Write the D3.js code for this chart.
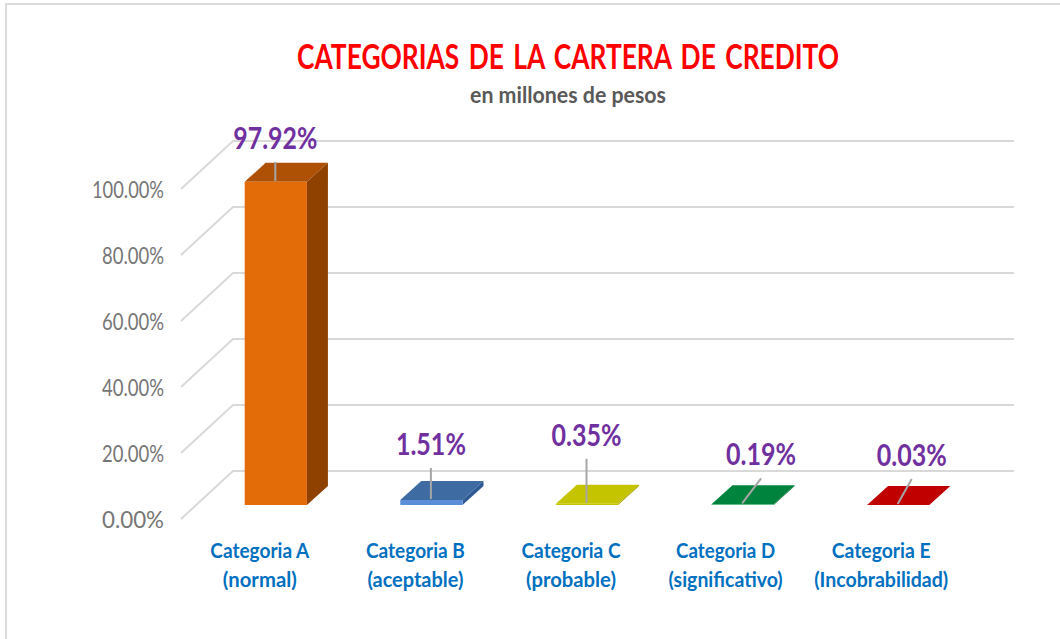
<!DOCTYPE html>
<html>
<head>
<meta charset="utf-8">
<script src="https://cdn.jsdelivr.net/npm/d3@7"></script>
<style>
  html, body { margin: 0; padding: 0; background: #fff; }
  text { font-family: Lato, Carlito, sans-serif; }
</style>
</head>
<body>
<div id="chart"></div>
<script>
// Chart data
const categories = ['Categoria A', 'Categoria B', 'Categoria C', 'Categoria D', 'Categoria E'];
const subLabels = ['(normal)', '(aceptable)', '(probable)', '(significativo)', '(Incobrabilidad)'];
const values = [97.92, 1.51, 0.35, 0.19, 0.03];
const valueLabels = ['97.92%', '1.51%', '0.35%', '0.19%', '0.03%'];
const yTicks = [0, 20, 40, 60, 80, 100];

// Bar colours: front, top, side
const frontColors = ['#e36c09', '#5b8ed8', '#c4c400', '#2fa565', '#e03030'];
const topColors = ['#ae5104', '#3f6ba3', '#c4c400', '#00843d', '#c00000'];
const sideColors = ['#8f4200', '#2f5a94', '#a5a500', '#006b30', '#a00000'];

const W = 1060, H = 639;

const svg = d3.select('#chart').append('svg')
  .attr('width', W)
  .attr('height', H)
  .style('display', 'block');

// Frame
svg.append('path')
  .attr('d', `M6,${H}V4H${W}`)
  .attr('fill', 'none')
  .attr('stroke', '#dcdcdc')
  .attr('stroke-width', 2);

// Scales (front plane of the bars)
const x = d3.scaleBand()
  .domain(categories)
  .range([198, 976])
  .paddingInner(0.6)
  .paddingOuter(0.3);

const y = d3.scaleLinear()
  .domain([0, 100])
  .range([505, 175]);

// 3D offsets
const depthX = 21, depthY = -19;      // bar depth
const floorFront = 14;                // front edge of the floor below the bars
const wallX = 233, leftX = 181, rightX = 1014;
const wallDy = -34;

// Grid: floor/side diagonal + back wall line
svg.append('g').selectAll('path')
  .data(yTicks)
  .join('path')
  .attr('d', d => `M${leftX},${y(d) + floorFront}L${wallX},${y(d) + wallDy}H${rightX}`)
  .attr('fill', 'none')
  .attr('stroke', '#d9d9d9')
  .attr('stroke-width', 2);

// Y axis labels
const yAxis = svg.append('g')
  .attr('transform', `translate(167,${floorFront + 1})`)
  .call(d3.axisLeft(y).tickValues(yTicks).tickSize(0).tickFormat(d => d3.format('.2f')(d) + '%'));
yAxis.select('.domain').remove();
yAxis.selectAll('text')
  .attr('font-size', 23)
  .attr('fill', '#767676')
  .style('font-family', 'Lato, sans-serif')
  .attr('textLength', (d, i) => i === 5 ? 72 : 62)
  .attr('lengthAdjust', 'spacingAndGlyphs');

// Bars
const bars = svg.append('g').selectAll('g')
  .data(values)
  .join('g');

bars.append('path')
  .attr('d', (d, i) => {
    const x0 = x(categories[i]), x1 = x0 + x.bandwidth();
    return `M${x0},${y(d)}L${x0 + depthX},${y(d) + depthY}H${x1 + depthX}L${x1},${y(d)}Z`;
  })
  .attr('fill', (d, i) => topColors[i]);

bars.append('path')
  .attr('d', (d, i) => {
    const x1 = x(categories[i]) + x.bandwidth();
    return `M${x1},${y(d)}L${x1 + depthX},${y(d) + depthY}V${y(0) + depthY}L${x1},${y(0)}Z`;
  })
  .attr('fill', (d, i) => sideColors[i]);

bars.append('rect')
  .attr('x', (d, i) => x(categories[i]))
  .attr('y', d => y(d))
  .attr('width', x.bandwidth())
  .attr('height', d => y(0) - y(d))
  .attr('fill', (d, i) => frontColors[i]);

// Value label placement relative to the bar centre / top
const labelDx = [0, 0, 0, 19, 14];
const labelDy = [-43, -55, -68, -49, -49];
const leaderDy = [-1, -1, -1, -1, -1];

bars.append('line')
  .attr('x1', (d, i) => x(categories[i]) + x.bandwidth() / 2 - 0.5)
  .attr('y1', (d, i) => y(d) + leaderDy[i])
  .attr('x2', (d, i) => x(categories[i]) + x.bandwidth() / 2 - 0.5 + labelDx[i])
  .attr('y2', (d, i) => y(d) + labelDy[i] + 23)
  .attr('stroke', '#a6a6a6')
  .attr('stroke-width', 2);

bars.append('text')
  .attr('x', (d, i) => x(categories[i]) + x.bandwidth() / 2 - 0.5 + labelDx[i])
  .attr('y', (d, i) => y(d) + labelDy[i] + 10)
  .attr('text-anchor', 'middle')
  .attr('font-size', 30)
  .attr('font-weight', 700)
  .attr('fill', '#7030a0')
  .attr('textLength', (d, i) => i === 0 ? 84 : 70)
  .attr('lengthAdjust', 'spacingAndGlyphs')
  .text((d, i) => valueLabels[i]);

// Category labels
const catG = svg.append('g').selectAll('g')
  .data(categories)
  .join('g')
  .attr('transform', d => `translate(${x(d) + x.bandwidth() / 2 - 16},0)`);

const catShift = [0, 0, 0, -1, -1];
catG.append('text')
  .attr('x', (d, i) => catShift[i])
  .attr('y', 558)
  .attr('text-anchor', 'middle')
  .attr('font-size', 21.5)
  .attr('font-weight', 700)
  .attr('fill', '#0070c0')
  .attr('textLength', 99)
  .attr('lengthAdjust', 'spacingAndGlyphs')
  .text(d => d);

const subWidths = [74, 96, 90, 114, 134];
catG.append('text')
  .attr('x', (d, i) => catShift[i])
  .attr('y', 587)
  .attr('text-anchor', 'middle')
  .attr('font-size', 21.5)
  .attr('font-weight', 700)
  .attr('fill', '#0070c0')
  .attr('textLength', (d, i) => subWidths[i])
  .attr('lengthAdjust', 'spacingAndGlyphs')
  .text((d, i) => subLabels[i]);

// Title
svg.append('text')
  .attr('x', 568)
  .attr('y', 69)
  .attr('text-anchor', 'middle')
  .attr('font-size', 35)
  .attr('font-weight', 700)
  .attr('fill', '#ff0000')
  .attr('word-spacing', 4)
  .attr('textLength', 542)
  .attr('lengthAdjust', 'spacingAndGlyphs')
  .text('CATEGORIAS DE LA CARTERA DE CREDITO');

svg.append('text')
  .attr('x', 568)
  .attr('y', 103)
  .attr('text-anchor', 'middle')
  .attr('font-size', 23)
  .attr('font-weight', 700)
  .attr('fill', '#595959')
  .attr('textLength', 196)
  .attr('lengthAdjust', 'spacingAndGlyphs')
  .text('en millones de pesos');
</script>
</body>
</html>
